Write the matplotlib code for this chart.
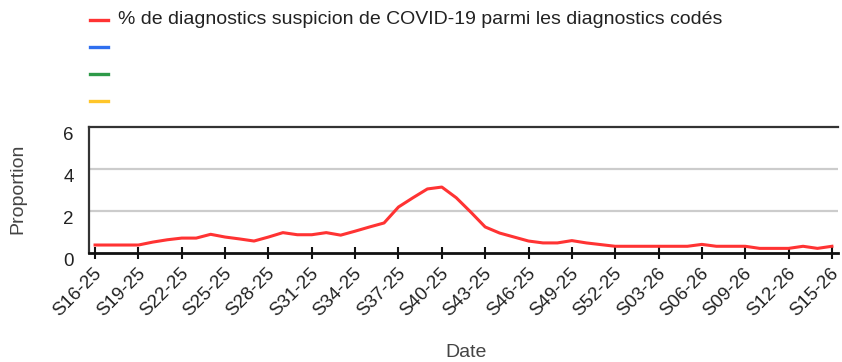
import matplotlib
matplotlib.use("Agg")
import matplotlib.pyplot as plt
from matplotlib.lines import Line2D
from matplotlib.transforms import ScaledTranslation

plt.rcParams['font.family'] = ['Liberation Sans', 'DejaVu Sans']

# Weekly labels S16-25 ... S15-26
weeks = [f"S{w:02d}-25" for w in range(16, 53)] + [f"S{w:02d}-26" for w in range(1, 16)]

covid_pct = [0.38, 0.38, 0.38, 0.38, 0.52, 0.63, 0.71, 0.71, 0.89, 0.76,
             0.67, 0.57, 0.76, 0.97, 0.87, 0.87, 0.97, 0.85, 1.04, 1.24,
             1.43, 2.19, 2.63, 3.05, 3.14, 2.63, 1.95, 1.24, 0.95, 0.76,
             0.57, 0.48, 0.48, 0.59, 0.48, 0.40, 0.32, 0.32, 0.32, 0.32,
             0.32, 0.32, 0.41, 0.32, 0.32, 0.32, 0.22, 0.22, 0.22, 0.32,
             0.22, 0.32]

series_labels = ["% de diagnostics suspicion de COVID-19 parmi les diagnostics codés", "", "", ""]
series_colors = ["#ff3333", "#2f6fef", "#2e9a48", "#ffc62a"]

y_ticks = [0, 2, 4, 6]

W, H = 842, 362
fig = plt.figure(figsize=(W / 100, H / 100), dpi=100)
ax = fig.add_axes([89 / W, 1 - 253 / H, (838 - 89) / W, (253 - 127) / H])

x = list(range(len(weeks)))
ax.plot(x, covid_pct, color=series_colors[0], lw=2.2, solid_joinstyle='round', zorder=3)

ax.set_xlim(-0.42, len(weeks) - 1 + 0.42)
ax.set_ylim(0, 6)

ax.set_yticks(y_ticks)
ax.set_yticklabels([str(v) for v in y_ticks], fontsize=13.5, color='#222222')
ax.tick_params(axis='y', length=0, pad=11)
for lab in ax.get_yticklabels():
    lab.set_transform(lab.get_transform() + ScaledTranslation(0, -6 / 100, fig.dpi_scale_trans))

# light gridlines at intermediate values, dark line at the top
for v in y_ticks[1:-1]:
    ax.axhline(v, color='#cccccc', lw=1.6, zorder=1)
ax.axhline(6, color='#333333', lw=1.6, zorder=2, clip_on=False)

ax.set_xticks(x[::3])
ax.set_xticklabels(weeks[::3], rotation=45, ha='right', va='center',
                   rotation_mode='anchor', fontsize=13.5, color='#222222')
ax.tick_params(axis='x', direction='inout', length=8, width=1.5, color='#111111', pad=9)
for lab in ax.get_xticklabels():
    lab.set_transform(lab.get_transform() + ScaledTranslation(4 / 100, 0, fig.dpi_scale_trans))

for s in ['top', 'right']:
    ax.spines[s].set_visible(False)
ax.spines['left'].set_color('#333333')
ax.spines['left'].set_linewidth(1.6)
ax.spines['bottom'].set_color('#111111')
ax.spines['bottom'].set_linewidth(2.0)
ax.spines['bottom'].set_zorder(4)

fig.text(18 / W, 1 - 189 / H, "Proportion", fontsize=14, color='#444444',
         rotation=90, ha='center', va='center')
fig.text(466 / W, 1 - 344 / H, "Date", fontsize=14, color='#444444', ha='center', va='top')

# legend entries stacked in the upper left
for i, (lab, col) in enumerate(zip(series_labels, series_colors)):
    yy = 1 - (20 + 27 * i) / H
    fig.add_artist(Line2D([90 / W, 108 / W], [yy, yy], color=col, lw=2.4,
                          transform=fig.transFigure))
    if lab:
        fig.text(118 / W, yy, lab, fontsize=14, color='#222222', va='center', ha='left')

fig.savefig("out.png", dpi=100)
